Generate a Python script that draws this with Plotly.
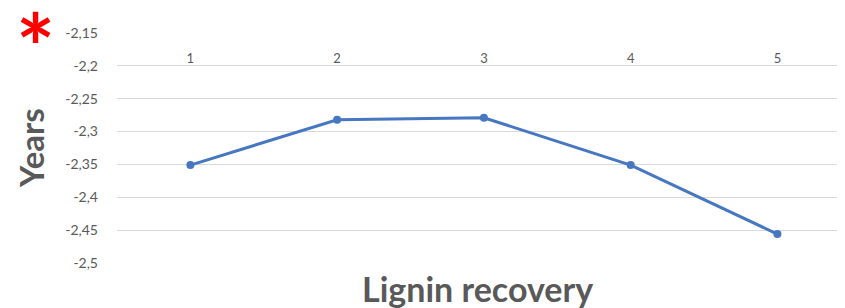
import plotly.graph_objects as go

categories = [1, 2, 3, 4, 5]
years = [-2.351, -2.282, -2.279, -2.351, -2.456]
y_ticks = [-2.15, -2.2, -2.25, -2.3, -2.35, -2.4, -2.45, -2.5]
y_ticktext = ["-2,15", "-2,2", "-2,25", "-2,3", "-2,35", "-2,4", "-2,45", "-2,5"]
x_ticktext = ["1", "2", "3", "4", "5"]

W, H = 845, 308
OFF = 8  # page body offset
ml, mr, mt, mb = 117 - OFF, 0, 33 - OFF, H - (263 - OFF)
y_lo, y_hi = -2.5, -2.15
axis_frac = (-2.2 - y_lo) / (y_hi - y_lo)
plot_h = H - mt - mb
plot_w = W - ml - mr


def px(xs):
    return (xs - OFF - ml) / plot_w


def py(ys):
    return (H - mb - (ys - OFF)) / plot_h


fig = go.Figure()
fig.add_trace(go.Scatter(
    x=categories, y=years, mode="lines+markers",
    line=dict(color="#4777C0", width=3),
    marker=dict(color="#4777C0", size=8),
    showlegend=False, cliponaxis=False,
))

fig.update_layout(
    width=W, height=H,
    margin=dict(l=ml, r=mr, t=mt, b=mb, autoexpand=False),
    paper_bgcolor="white", plot_bgcolor="white",
    font=dict(family="Lato, Open Sans, sans-serif", color="#595959"),
    xaxis=dict(
        range=[0.5, 5.515],
        tickvals=categories, ticktext=x_ticktext,
        side="top", anchor="free", position=axis_frac,
        showgrid=False, showline=False, zeroline=False, ticks="",
        tickfont=dict(size=13, color="#595959"),
        automargin=False,
    ),
    yaxis=dict(
        range=[y_lo, y_hi],
        tickvals=y_ticks, ticktext=y_ticktext,
        showgrid=True, gridcolor="#D9D9D9", gridwidth=1,
        zeroline=False, showline=False, ticks="",
        tickfont=dict(size=14, color="#595959"),
        ticklabelstandoff=18,
        automargin=False,
    ),
    annotations=[
        dict(text="<b>Lignin recovery</b>", xref="paper", yref="paper",
             x=px(477), y=py(288),
             xanchor="center", yanchor="middle", showarrow=False,
             font=dict(size=34, color="#595959")),
        dict(text="<b>Years</b>", xref="paper", yref="paper",
             x=px(31), y=py(148), textangle=-90,
             xanchor="center", yanchor="middle", showarrow=False,
             font=dict(size=33, color="#595959")),
        dict(text="<b>*</b>", xref="paper", yref="paper",
             x=px(35), y=py(46),
             xanchor="center", yanchor="middle", showarrow=False,
             font=dict(size=92, color="#FF0000")),
    ],
)

fig.write_html("out.html")
